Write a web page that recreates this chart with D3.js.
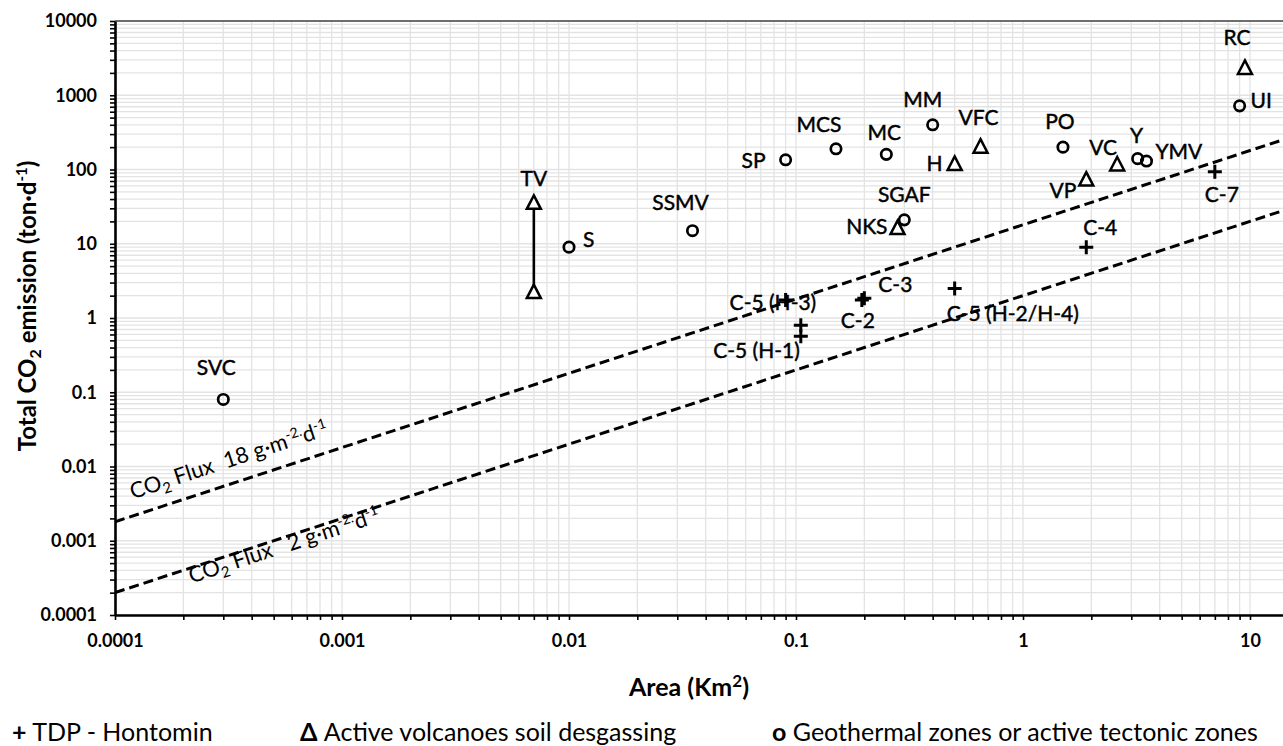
<!DOCTYPE html>
<html><head><meta charset="utf-8">
<script src="https://cdn.jsdelivr.net/npm/d3@7"></script>
<style>
body{margin:0;background:#fff;}
svg{display:block;font-family:Lato,"Open Sans",sans-serif;}
</style></head><body>
<svg id="chart" width="1283" height="746"></svg>
<script>
// Area (km²) and total CO2 emission (ton/d) per site, grouped by site type
const tdpNames = ["C-2","C-3","C-4","C-5 (H-1)","C-5 (H-1)","C-5 (H-3)","C-5 (H-2/H-4)","C-7"];
const tdpArea = [0.195,0.2,1.9,0.105,0.105,0.09,0.5,7];
const tdpEmission = [1.75,1.85,9,0.8,0.57,1.75,2.5,93];

const volcanoNames = ["TV","TV","NKS","H","VFC","VP","VC","RC"];
const volcanoArea = [0.007,0.007,0.28,0.5,0.65,1.9,2.6,9.5];
const volcanoEmission = [35,2.2,16,117,200,72,115,2300];

const geoNames = ["SVC","S","SSMV","SP","MCS","MC","SGAF","MM","PO","Y","YMV","UI"];
const geoArea = [0.0003,0.01,0.035,0.09,0.15,0.25,0.3,0.4,1.5,3.2,3.5,9];
const geoEmission = [0.08,9,15,135,190,160,21,400,200,140,130,720];

// Reference soil fluxes in g·m⁻²·d⁻¹ (emission in t/d = flux × area in km²)
const fluxLevels = [18, 2];

const xLimits = [0.0001, 14];
const yLimits = [0.0001, 10000];
const xTickLabels = ["0.0001","0.001","0.01","0.1","1","10"];
const yTickLabels = ["0.0001","0.001","0.01","0.1","1","10","100","1000","10000"];
const legendLabels = ["TDP - Hontomin","Active volcanoes soil desgassing","Geothermal zones or active tectonic zones"];

// ---- layout ----
const svg = d3.select("#chart");
const W = 1283;
const plotLeft = 115, plotTop = 21, plotBottom = 615;
const decadePx = 227;
const plotRight = plotLeft + decadePx * Math.log10(xLimits[1] / xLimits[0]);

const x = d3.scaleLog().domain(xLimits).range([plotLeft, plotRight]);
const y = d3.scaleLog().domain(yLimits).range([plotBottom, plotTop]);

// every 1..9 step inside each decade
function logSteps(lo, hi) {
  const out = [];
  for (let e = Math.round(Math.log10(lo)); e <= Math.ceil(Math.log10(hi)); e++) {
    for (let k = 1; k <= 9; k++) {
      const v = k * Math.pow(10, e);
      if (v >= lo * 0.9999 && v <= hi * 1.0001) out.push(v);
    }
  }
  return out;
}
const xSteps = logSteps(xLimits[0], xLimits[1]);
const ySteps = logSteps(yLimits[0], yLimits[1]);
const isPow10 = v => Math.abs(Math.log10(v) - Math.round(Math.log10(v))) < 1e-9;

// ---- grid ----
const grid = svg.append("g").attr("stroke", "#e3e3e3").attr("stroke-width", 1.3);
grid.selectAll("line.gx").data(xSteps).join("line").attr("class", "gx")
  .attr("x1", d => x(d)).attr("x2", d => x(d)).attr("y1", plotTop).attr("y2", plotBottom);
grid.selectAll("line.gy").data(ySteps).join("line").attr("class", "gy")
  .attr("x1", plotLeft).attr("x2", W).attr("y1", d => y(d)).attr("y2", d => y(d));

// top frame
svg.append("line").attr("x1", plotLeft).attr("x2", W).attr("y1", plotTop).attr("y2", plotTop)
  .attr("stroke", "#6e6e6e").attr("stroke-width", 2);

// ---- flux reference lines ----
svg.append("clipPath").attr("id", "plotClip")
  .append("rect").attr("x", plotLeft).attr("y", plotTop)
  .attr("width", W - plotLeft).attr("height", plotBottom - plotTop);
const line = d3.line().x(d => x(d[0])).y(d => y(d[1]));
svg.append("g").attr("clip-path", "url(#plotClip)")
  .selectAll("path").data(fluxLevels).join("path")
  .attr("d", f => line(xLimits.map(a => [a, f * a])))
  .attr("fill", "none").attr("stroke", "#000").attr("stroke-width", 3)
  .attr("stroke-dasharray", "10,5");

const angle = -Math.atan2(y(1) - y(10), x(10) - x(1)) * 180 / Math.PI;
const fluxLabelPos = [{area: 1.26e-4, off: -16}, {area: 2.07e-4, off: 15}];
fluxLevels.forEach((f, i) => {
  const p = fluxLabelPos[i];
  const t = svg.append("text")
    .attr("transform", `translate(${x(p.area)},${y(f * p.area)}) rotate(${angle})`)
    .attr("y", p.off).attr("font-size", 22).attr("fill", "#000")
    .style("white-space", "pre");
  t.append("tspan").text("CO");
  t.append("tspan").text("2").attr("font-size", 15).attr("dy", 5);
  t.append("tspan").text(` Flux  ${f < 10 ? " " : ""}${f} g·m`).attr("dy", -5);
  t.append("tspan").text("-2.").attr("font-size", 14).attr("dy", -8);
  t.append("tspan").text("d").attr("dy", 8);
  t.append("tspan").text("-1").attr("font-size", 14).attr("dy", -8);
});

// ---- axes ----
const yAxis = d3.axisLeft(y).tickValues(ySteps).tickSize(5).tickSizeOuter(0)
  .tickFormat(d => isPow10(d) ? yTickLabels[Math.round(Math.log10(d)) + 4] : "");
const gy = svg.append("g").attr("transform", `translate(${plotLeft},0)`).call(yAxis);
gy.select(".domain").attr("stroke", "#000").attr("stroke-width", 2.6);
gy.selectAll(".tick line").attr("stroke", "#000").attr("stroke-width", 1.6);
gy.selectAll(".tick text").attr("font-family", "Lato").attr("font-weight", "bold")
  .attr("font-size", 18).attr("fill", "#000").attr("x", -18);

const xAxis = d3.axisBottom(x).tickValues(xSteps).tickSize(5).tickSizeOuter(0)
  .tickFormat(d => isPow10(d) ? xTickLabels[Math.round(Math.log10(d)) + 4] : "");
const gx = svg.append("g").attr("transform", `translate(0,${plotBottom})`).call(xAxis);
gx.select(".domain").attr("stroke", "#000").attr("stroke-width", 2.6);
gx.selectAll(".tick line").attr("stroke", "#000").attr("stroke-width", 1.6);
gx.selectAll(".tick text").attr("font-family", "Lato").attr("font-weight", "bold")
  .attr("font-size", 18).attr("fill", "#000").attr("y", 19);

// axis titles
const yt = svg.append("text").attr("transform", `translate(36,306) rotate(-90)`)
  .attr("text-anchor", "middle").attr("font-weight", "bold").attr("font-size", 24);
yt.append("tspan").text("Total CO");
yt.append("tspan").text("2").attr("font-size", 16).attr("dy", 5);
yt.append("tspan").text(" emission (ton·d").attr("dy", -5);
yt.append("tspan").text("-1").attr("font-size", 15).attr("dy", -9);
yt.append("tspan").text(")").attr("dy", 9);

const xt = svg.append("text").attr("x", 689).attr("y", 696)
  .attr("text-anchor", "middle").attr("font-weight", "bold").attr("font-size", 25);
xt.append("tspan").text("Area (Km");
xt.append("tspan").text("2").attr("font-size", 17).attr("dy", -9);
xt.append("tspan").text(")").attr("dy", 9);

// ---- TV range bar ----
const tvIdx = volcanoNames.map((n, i) => n === "TV" ? i : -1).filter(i => i >= 0);
svg.append("line")
  .attr("x1", x(volcanoArea[tvIdx[0]])).attr("x2", x(volcanoArea[tvIdx[1]]))
  .attr("y1", y(volcanoEmission[tvIdx[0]])).attr("y2", y(volcanoEmission[tvIdx[1]]))
  .attr("stroke", "#000").attr("stroke-width", 2.6);

// ---- markers ----
const zip = (names, a, e) => names.map((n, i) => ({name: n, area: a[i], em: e[i]}));
const tdp = zip(tdpNames, tdpArea, tdpEmission);
const volc = zip(volcanoNames, volcanoArea, volcanoEmission);
const geo = zip(geoNames, geoArea, geoEmission);

svg.append("g").selectAll("path").data(tdp).join("path")
  .attr("transform", d => `translate(${x(d.area)},${y(d.em)})`)
  .attr("d", "M-7,0H7M0,-7V7").attr("stroke", "#000").attr("stroke-width", 3);
svg.append("g").selectAll("path").data(volc).join("path")
  .attr("transform", d => `translate(${x(d.area)},${y(d.em)})`)
  .attr("d", "M0,-8L7,5.5L-7,5.5Z").attr("fill", "#fff").attr("stroke", "#000")
  .attr("stroke-width", 2.5).attr("stroke-linejoin", "miter");
svg.append("g").selectAll("circle").data(geo).join("circle")
  .attr("cx", d => x(d.area)).attr("cy", d => y(d.em)).attr("r", 5.2)
  .attr("fill", "none").attr("stroke", "#000").attr("stroke-width", 2.7);

// ---- point labels (offset in px, text anchor) ----
const labelLayout = {
  "SVC": [-7, -24, "middle"], "TV": [0, -17, "middle"], "S": [14, 0, "start"],
  "SSMV": [-12, -21, "middle"], "SP": [-20, 8, "end"], "MCS": [-17, -17, "middle"],
  "MC": [-2, -14, "middle"], "MM": [-10, -18, "middle"], "VFC": [-2, -22, "middle"],
  "H": [-12, 7, "end"], "SGAF": [0, -18, "middle"], "NKS": [-10, 5, "end"],
  "RC": [-8, -23, "middle"], "UI": [11, 2, "start"], "PO": [-3, -18, "middle"],
  "VC": [-14, -10, "middle"], "Y": [-1, -16, "middle"], "YMV": [9, -2, "start"],
  "VP": [-10, 18, "end"], "C-7": [7, 30, "middle"], "C-4": [14, -12, "middle"],
  "C-5 (H-2/H-4)": [-8, 33, "start"], "C-3": [14, -6, "start"], "C-2": [-4, 28, "middle"],
  "C-5 (H-3)": [-56, 10, "start"], "C-5 (H-1)": [-1, 33, "end"]
};
const seen = new Set();
const labelled = [...geo, ...volc, ...tdp].filter(d => {
  if (seen.has(d.name)) return false;
  seen.add(d.name); return true;
});
svg.append("g").selectAll("text").data(labelled).join("text")
  .attr("x", d => x(d.area) + labelLayout[d.name][0])
  .attr("y", d => y(d.em) + labelLayout[d.name][1])
  .attr("text-anchor", d => labelLayout[d.name][2])
  .attr("font-size", 21).attr("fill", "#000")
  .attr("stroke", "#000").attr("stroke-width", 0.45)
  .text(d => d.name);

// ---- legend ----
const legendX = [12, 300, 772];
const legendSym = ["+", "Δ", "o"];
const lg = svg.append("g").attr("font-size", 25);
legendLabels.forEach((lab, i) => {
  const t = lg.append("text").attr("x", legendX[i]).attr("y", 741);
  t.append("tspan").text(legendSym[i]).attr("font-weight", "bold");
  t.append("tspan").text(" " + lab);
});
</script>
</body></html>
